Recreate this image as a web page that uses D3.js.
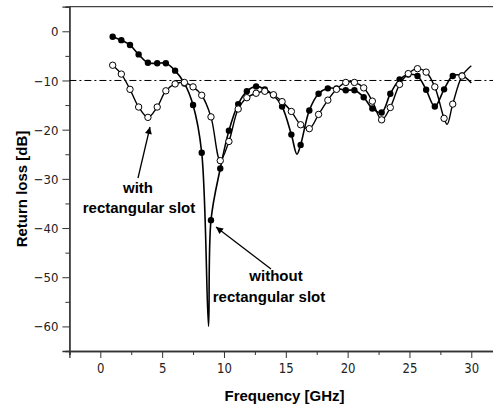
<!DOCTYPE html>
<html>
<head>
<meta charset="utf-8">
<script src="https://cdn.jsdelivr.net/npm/d3@7"></script>
<style>
  body { margin: 0; background: #fff; }
  svg { display: block; }
  .lbl { font-family: "Liberation Sans", Arial, sans-serif; font-weight: bold; font-size: 15px; fill: #000; }
  .tick text { font-family: "Liberation Sans Narrow", "DejaVu Sans Condensed", sans-serif; font-size: 13px; fill: #222; }
</style>
</head>
<body>
<div id="chart"></div>
<script>
// frequency samples (GHz), shared by both curves
var freqs = [1, 1.7, 2.4, 3.1, 3.85, 4.6, 5.3, 6.05, 6.8, 7.5,
             8.2, 8.95, 9.7, 10.4, 11.15, 11.85, 12.6, 13.3, 14.0, 14.7,
             15.45, 16.2, 16.9, 17.65, 18.4, 19.1, 19.85, 20.55, 21.3, 22.0,
             22.75, 23.45, 24.2, 24.9, 25.65, 26.35, 27.05, 27.8, 28.5, 29.25];

// return loss without the slot (filled dots)
var withoutSlot = [-1.1, -1.8, -2.8, -4.7, -6.4, -6.5, -6.5, -8.0, -10.6, -15.0,
                   -24.7, -38.4, -27.9, -20.2, -14.8, -12.2, -11.2, -11.8, -13.0, -15.3,
                   -21.0, -23.1, -16.1, -12.7, -11.6, -11.6, -12.0, -12.0, -13.4, -15.7,
                   -16.5, -12.7, -9.8, -8.8, -9.1, -11.9, -15.3, -11.8, -9.1, -9.0];
// return loss with the slot (open dots)
var withSlot = [-6.9, -8.7, -11.8, -15.4, -17.5, -15.4, -12.1, -10.7, -10.4, -11.3,
                -13.0, -17.4, -26.3, -22.4, -15.8, -13.5, -12.6, -12.2, -12.9, -14.3,
                -16.3, -19.0, -19.8, -16.9, -14.0, -11.8, -10.4, -10.4, -11.5, -14.2,
                -18.0, -15.5, -10.8, -8.6, -7.6, -8.3, -11.3, -17.7, -14.8, -9.1];

// extra curve points drawn without a marker (resonance minima, line ends)
var withoutSlotLineOnly = [[8.75, -60], [15.9, -25], [30, -10.5]];
var withSlotLineOnly = [[28.05, -18.9], [30, -7]];

var xMajor = [0, 5, 10, 15, 20, 25, 30];
var xMinor = [-2.5, 2.5, 7.5, 12.5, 17.5, 22.5, 27.5, 32.5];
var yMajor = [0, -10, -20, -30, -40, -50, -60];
var yMinor = [5, -5, -15, -25, -35, -45, -55, -65];
var threshold = -10;

var W = 493, H = 407;
var svg = d3.select("#chart").append("svg").attr("width", W).attr("height", H);

var x = d3.scaleLinear().domain([-2.5, 32.5]).range([69.4, 502.2]);
var y = d3.scaleLinear().domain([-65, 5]).range([351, 6.7]);

function pts(vals, extra) {
  var p = freqs.map(function(f, i){ return [f, vals[i]]; }).concat(extra);
  return p.sort(function(a, b){ return a[0] - b[0]; });
}

// frame top
svg.append("line")
  .attr("x1", x(-2.5)).attr("x2", x(32.5))
  .attr("y1", y(5)).attr("y2", y(5))
  .attr("stroke", "#444").attr("stroke-width", 1.3);

// axes
var gx = svg.append("g").attr("transform", "translate(0," + y(-65) + ")");
gx.call(d3.axisBottom(x).tickValues(xMajor).tickSize(7).tickPadding(5).tickFormat(d3.format("d")));
var gxm = svg.append("g").attr("transform", "translate(0," + y(-65) + ")");
gxm.call(d3.axisBottom(x).tickValues(xMinor).tickSize(4).tickFormat(""));

var gy = svg.append("g").attr("transform", "translate(" + x(-2.5) + ",0)");
gy.call(d3.axisLeft(y).tickValues(yMajor).tickSize(7).tickPadding(4).tickFormat(d3.format("d")));
var gym = svg.append("g").attr("transform", "translate(" + x(-2.5) + ",0)");
gym.call(d3.axisLeft(y).tickValues(yMinor).tickSize(4).tickFormat(""));

svg.selectAll(".domain").attr("stroke", "#333").attr("stroke-width", 1.3);
svg.selectAll(".tick line").attr("stroke", "#333");
gx.selectAll(".tick text").attr("transform", "scale(1,1.15)").attr("dy", "0.55em");
gy.selectAll(".tick text").attr("dy", "0.35em");

// -10 dB dash-dot line
svg.append("line")
  .attr("x1", x(-2.5)).attr("x2", W)
  .attr("y1", y(threshold)).attr("y2", y(threshold))
  .attr("stroke", "#000").attr("stroke-width", 1)
  .attr("stroke-dasharray", "7,3,2,3");

var line = d3.line()
  .x(function(d){ return x(d[0]); })
  .y(function(d){ return y(d[1]); })
  .curve(d3.curveCatmullRom.alpha(0.5));

svg.append("path").datum(pts(withoutSlot, withoutSlotLineOnly))
  .attr("d", line).attr("fill", "none").attr("stroke", "#000").attr("stroke-width", 1.6);
svg.append("path").datum(pts(withSlot, withSlotLineOnly))
  .attr("d", line).attr("fill", "none").attr("stroke", "#000").attr("stroke-width", 1.4);

svg.selectAll(".dotF").data(freqs).enter().append("circle")
  .attr("cx", function(f){ return x(f); })
  .attr("cy", function(f, i){ return y(withoutSlot[i]); })
  .attr("r", 3.2).attr("fill", "#000");

svg.selectAll(".dotO").data(freqs).enter().append("circle")
  .attr("cx", function(f){ return x(f); })
  .attr("cy", function(f, i){ return y(withSlot[i]); })
  .attr("r", 3.2).attr("fill", "#fff").attr("stroke", "#000").attr("stroke-width", 1);

// axis titles
svg.append("text").attr("class", "lbl")
  .attr("x", 284.5).attr("y", 401).attr("text-anchor", "middle")
  .text("Frequency [GHz]");
svg.append("text").attr("class", "lbl")
  .attr("transform", "translate(27,189) rotate(-90)")
  .attr("text-anchor", "middle")
  .text("Return loss [dB]");

// annotations
var defs = svg.append("defs");
defs.append("marker").attr("id", "ah")
  .attr("viewBox", "0 0 10 10").attr("refX", 10).attr("refY", 5)
  .attr("markerWidth", 9).attr("markerHeight", 7).attr("markerUnits", "userSpaceOnUse")
  .attr("orient", "auto")
  .append("path").attr("d", "M0,0L10,5L0,10z").attr("fill", "#000");

svg.append("line").attr("x1", 138).attr("y1", 178).attr("x2", 150).attr("y2", 127)
  .attr("stroke", "#000").attr("stroke-width", 1.3).attr("marker-end", "url(#ah)");
svg.append("line").attr("x1", 271).attr("y1", 269).attr("x2", 216).attr("y2", 227)
  .attr("stroke", "#000").attr("stroke-width", 1.3).attr("marker-end", "url(#ah)");

svg.append("text").attr("class", "lbl").attr("x", 138).attr("y", 193)
  .attr("text-anchor", "middle").text("with");
svg.append("text").attr("class", "lbl").attr("x", 139).attr("y", 213)
  .attr("text-anchor", "middle").text("rectangular slot");
svg.append("text").attr("class", "lbl").attr("x", 276).attr("y", 281)
  .attr("text-anchor", "middle").text("without");
svg.append("text").attr("class", "lbl").attr("x", 269).attr("y", 302)
  .attr("text-anchor", "middle").text("rectangular slot");
</script>
</body>
</html>
